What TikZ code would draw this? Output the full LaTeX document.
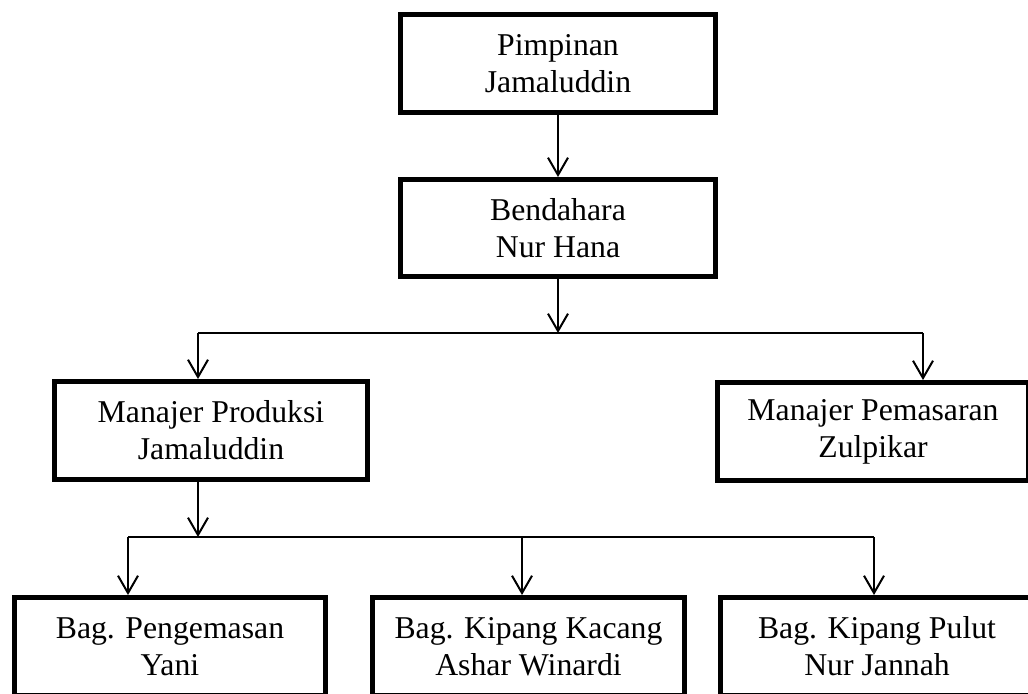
\documentclass[tikz,border=0pt]{standalone}
\usepackage{fontspec}
\setmainfont{Liberation Serif}
\usetikzlibrary{arrows.meta}
\tikzset{
  box/.style={draw, line width=3.6pt, rectangle, inner sep=0pt, align=center,
    font=\fontsize{23.8}{27.6}\selectfont, minimum height=73.6pt},
  arr/.style={line width=1.5pt, -{Straight Barb[length=13pt,width=15pt,line width=1.5pt]}},
  bus/.style={line width=1.5pt}
}
\begin{document}
\begin{tikzpicture}[x=0.75pt,y=-0.75pt]
\useasboundingbox (0,0) rectangle (1028,693);
\node[box, minimum width=236.4pt] (pimp) at (558,63.5) {Pimpinan\\Jamaluddin};
\node[box, minimum width=236.4pt, minimum height=72.9pt] (bend) at (558,228) {Bendahara\\Nur Hana};
\node[box, minimum width=234.9pt] (prod) at (211,430.5) {Manajer Produksi\\Jamaluddin};
\node[box, minimum width=233.4pt] (pem) at (873,431.5) {Manajer Pemasaran\\Zulpikar};
\node[box, minimum width=233.4pt] (peng) at (170,646.5) {Bag. Pengemasan\\Yani};
\node[box, minimum width=234.1pt] (kac) at (528.5,646.5) {Bag. Kipang Kacang\\Ashar Winardi};
\node[box, minimum width=234.9pt] (pul) at (877,646.5) {Bag. Kipang Pulut\\Nur Jannah};
\coordinate (busA) at (198,333);
\coordinate (busB) at (923,333);
\coordinate (busC) at (128,537);
\coordinate (busM) at (522,537);
\coordinate (busD) at (874,537);
\draw[arr] (pimp) -- (bend);
\draw[arr] (bend.south) -- (bend.south |- busA);
\draw[bus] (busA) -- (busB);
\draw[arr] (busA) -- (busA |- prod.north);
\draw[arr] (busB) -- (busB |- pem.north);
\draw[arr] (busA |- prod.south) -- (busA |- busC);
\draw[bus] (busC) -- (busD);
\draw[arr] (busC) -- (busC |- peng.north);
\draw[arr] (busM) -- (busM |- kac.north);
\draw[arr] (busD) -- (busD |- pul.north);
\end{tikzpicture}
\end{document}
